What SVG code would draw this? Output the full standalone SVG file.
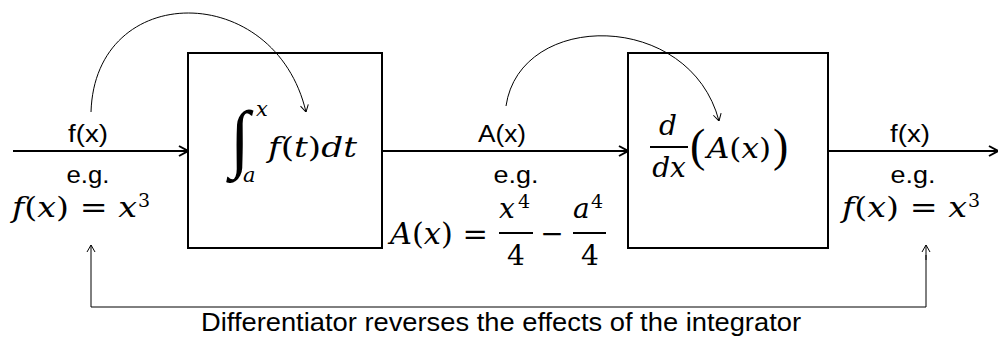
<svg xmlns="http://www.w3.org/2000/svg" width="998" height="337" viewBox="0 0 998 337">
<style>
.box{fill:#fff;stroke:#000;stroke-width:2}
.main{stroke:#000;stroke-width:2;fill:none}
.thin{stroke:#000;stroke-width:1;fill:none}
.bar{stroke:#000;stroke-width:2}
.lbl{font-family:"Liberation Sans",Arial,sans-serif;font-size:23px;fill:#000;text-anchor:middle}
.m{font-family:"DejaVu Serif","Liberation Serif",serif;fill:#000}
.s{font-family:"Liberation Serif","DejaVu Serif",serif;fill:#000}
.i{font-style:italic}
.cap{font-family:"Liberation Sans",Arial,sans-serif;font-size:26px;fill:#000}
</style>
<defs>
<marker id="ah" viewBox="0 0 10 12" refX="10" refY="6" markerWidth="10" markerHeight="12" markerUnits="userSpaceOnUse" orient="auto">
<path d="M1,1 L10,6 L1,11" fill="none" stroke="#000" stroke-width="2"/>
</marker>
<marker id="at" viewBox="0 0 8 10" refX="8" refY="5" markerWidth="8" markerHeight="10" markerUnits="userSpaceOnUse" orient="auto">
<path d="M1,1 L8,5 L1,9" fill="none" stroke="#000" stroke-width="1"/>
</marker>
</defs>
<rect width="998" height="337" fill="#fff"/>

<g id="integrator">
<rect class="box" x="188" y="53" width="194" height="195"/>
<text class="s" transform="translate(230,163) scale(1.2,1.25)" style="font-size:60px">∫</text>
<text class="m i" x="256" y="116" style="font-size:21px">x</text>
<text class="m i" x="243" y="182" style="font-size:21px">a</text>
<text class="m" x="268" y="157" style="font-size:28px" textLength="89" lengthAdjust="spacingAndGlyphs"><tspan class="i">f</tspan>(<tspan class="i">t</tspan>)<tspan class="i">dt</tspan></text>
</g>

<g id="differentiator">
<rect class="box" x="628" y="53" width="200" height="195"/>
<text class="m i" x="668" y="135" text-anchor="middle" style="font-size:28px">d</text>
<line class="bar" x1="650" y1="147" x2="688" y2="147"/>
<text class="m i" x="669" y="177" text-anchor="middle" style="font-size:28px">dx</text>
<text class="s" x="690" y="161" style="font-size:46px">(</text>
<text class="m" x="707" y="158" style="font-size:28px" textLength="64" lengthAdjust="spacingAndGlyphs"><tspan class="i">A</tspan>(<tspan class="i">x</tspan>)</text>
<text class="s" x="773" y="161" style="font-size:46px">)</text>
</g>

<g id="input-label">
<text class="lbl" x="88" y="142" textLength="40" lengthAdjust="spacingAndGlyphs">f(x)</text>
<text class="lbl" x="88" y="183" textLength="43" lengthAdjust="spacingAndGlyphs">e.g.</text>
<text class="m" x="12" y="217" style="font-size:28px" textLength="125" lengthAdjust="spacingAndGlyphs"><tspan class="i">f</tspan>(<tspan class="i">x</tspan>) = <tspan class="i">x</tspan></text>
<text class="m" x="138" y="207" style="font-size:19px">3</text>
</g>

<g id="middle-label">
<text class="lbl" x="502" y="142" textLength="48" lengthAdjust="spacingAndGlyphs">A(x)</text>
<text class="lbl" x="516" y="183" textLength="45" lengthAdjust="spacingAndGlyphs">e.g.</text>
<text class="m" x="390" y="244" style="font-size:30px" textLength="98" lengthAdjust="spacingAndGlyphs"><tspan class="i">A</tspan>(<tspan class="i">x</tspan>) =</text>
<text class="m i" x="499" y="218" style="font-size:28px">x</text>
<text class="m" x="518" y="208" style="font-size:19px">4</text>
<line class="bar" x1="499" y1="233" x2="533" y2="233"/>
<text class="m" x="516" y="265" text-anchor="middle" style="font-size:28px">4</text>
<text class="m" x="552" y="243" text-anchor="middle" style="font-size:28px">−</text>
<text class="m i" x="573" y="218" style="font-size:28px">a</text>
<text class="m" x="591" y="208" style="font-size:19px">4</text>
<line class="bar" x1="573" y1="233" x2="606" y2="233"/>
<text class="m" x="590" y="265" text-anchor="middle" style="font-size:28px">4</text>
</g>

<g id="output-label">
<text class="lbl" x="910" y="142" textLength="40" lengthAdjust="spacingAndGlyphs">f(x)</text>
<text class="lbl" x="913" y="183" textLength="45" lengthAdjust="spacingAndGlyphs">e.g.</text>
<text class="m" x="842" y="217" style="font-size:28px" textLength="125" lengthAdjust="spacingAndGlyphs"><tspan class="i">f</tspan>(<tspan class="i">x</tspan>) = <tspan class="i">x</tspan></text>
<text class="m" x="968" y="207" style="font-size:19px">3</text>
</g>

<g id="connectors">
<line class="main" x1="13" y1="151" x2="188" y2="151" marker-end="url(#ah)"/>
<line class="main" x1="382" y1="151" x2="628" y2="151" marker-end="url(#ah)"/>
<line class="main" x1="828" y1="151" x2="998" y2="151" marker-end="url(#ah)"/>
<path class="thin" d="M91,112 C95,-20 275,-20 306,112" marker-end="url(#at)"/>
<path class="thin" d="M506,106 C520,10 690,10 719,121" marker-end="url(#at)"/>
<path class="thin" d="M926,255 L926,307 L91,307 L91,245" marker-end="url(#at)"/>
<line class="thin" x1="926" y1="260" x2="926" y2="245" marker-end="url(#at)"/>
</g>

<text class="cap" x="201" y="331" textLength="600" lengthAdjust="spacingAndGlyphs">Differentiator reverses the effects of the integrator</text>
</svg>
